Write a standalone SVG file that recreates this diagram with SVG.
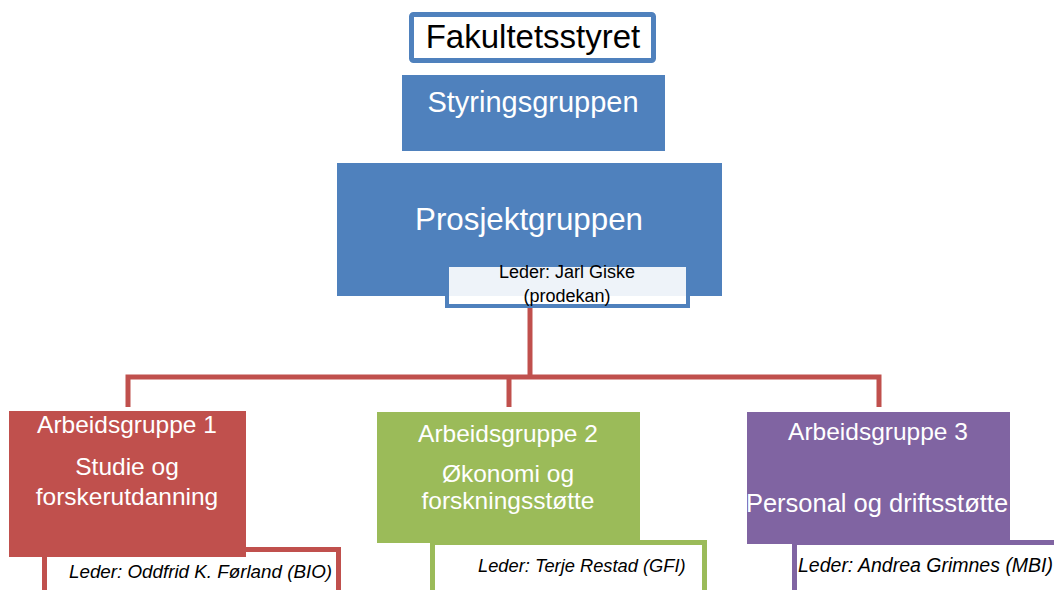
<svg xmlns="http://www.w3.org/2000/svg" width="1054" height="590" viewBox="0 0 1054 590">
<style>
text{font-family:"Liberation Sans",Arial,sans-serif}
.w{fill:#fff}
.k{fill:#000}
.c{text-anchor:middle}
.i{font-style:italic;font-size:18.5px}
.conn{fill:none;stroke:#c0504d;stroke-width:5}
.ag{font-size:24.5px}
</style>
<rect width="1054" height="590" fill="#fff"/>
<g id="connectors">
<path class="conn" d="M530 308V377"/>
<path class="conn" d="M128 407V377H879V407"/>
<path class="conn" d="M509 407V377"/>
</g>
<g id="fakultetsstyret">
<rect x="411.5" y="14.5" width="242" height="46" fill="#fff" stroke="#4f81bd" stroke-width="5" rx="2"/>
<text class="k c" x="533" y="48" font-size="33">Fakultetsstyret</text>
</g>
<g id="styringsgruppen">
<rect x="402" y="75" width="263" height="76" fill="#4f81bd"/>
<text class="w c" x="533" y="112" font-size="29">Styringsgruppen</text>
</g>
<g id="prosjektgruppen">
<rect x="337" y="163" width="385" height="133" fill="#4f81bd"/>
<text class="w c" x="529" y="230" font-size="31.3">Prosjektgruppen</text>
<rect x="447" y="265" width="241" height="41" fill="#fff" fill-opacity="0.9" stroke="#4f81bd" stroke-width="4"/>
<text class="k c" x="567" y="278" font-size="18">Leder: Jarl Giske</text>
<text class="k c" x="567" y="302" font-size="18">(prodekan)</text>
</g>
<g id="arbeidsgruppe1">
<rect x="44.5" y="549.5" width="294" height="60" fill="#fff" stroke="#c0504d" stroke-width="5"/>
<rect x="9" y="411" width="237" height="146" fill="#c0504d"/>
<text class="w c ag" x="127" y="433">Arbeidsgruppe 1</text>
<text class="w c ag" x="127" y="475">Studie og</text>
<text class="w c ag" x="127" y="505">forskerutdanning</text>
<text class="k i" x="69" y="578" style="font-size:18.8px">Leder: Oddfrid K. Førland (BIO)</text>
</g>
<g id="arbeidsgruppe2">
<rect x="432.5" y="542.5" width="272" height="60" fill="#fff" stroke="#9bbb59" stroke-width="5"/>
<rect x="377" y="412" width="263" height="131" fill="#9bbb59"/>
<text class="w c ag" x="508" y="442">Arbeidsgruppe 2</text>
<text class="w c ag" x="508" y="482">Økonomi og</text>
<text class="w c ag" x="508" y="509">forskningsstøtte</text>
<text class="k i" x="478" y="572" style="font-size:18.3px">Leder: Terje Restad (GFI)</text>
</g>
<g id="arbeidsgruppe3">
<rect x="794.5" y="542.5" width="300" height="60" fill="#fff" stroke="#8064a2" stroke-width="5"/>
<rect x="747" y="412" width="263" height="132" fill="#8064a2"/>
<text class="w c ag" x="878" y="440">Arbeidsgruppe 3</text>
<text class="w c" x="877" y="512" font-size="25.5">Personal og driftsstøtte</text>
<text class="k i" x="798" y="572" style="font-size:19.5px">Leder: Andrea Grimnes (MBI)</text>
</g>
</svg>
